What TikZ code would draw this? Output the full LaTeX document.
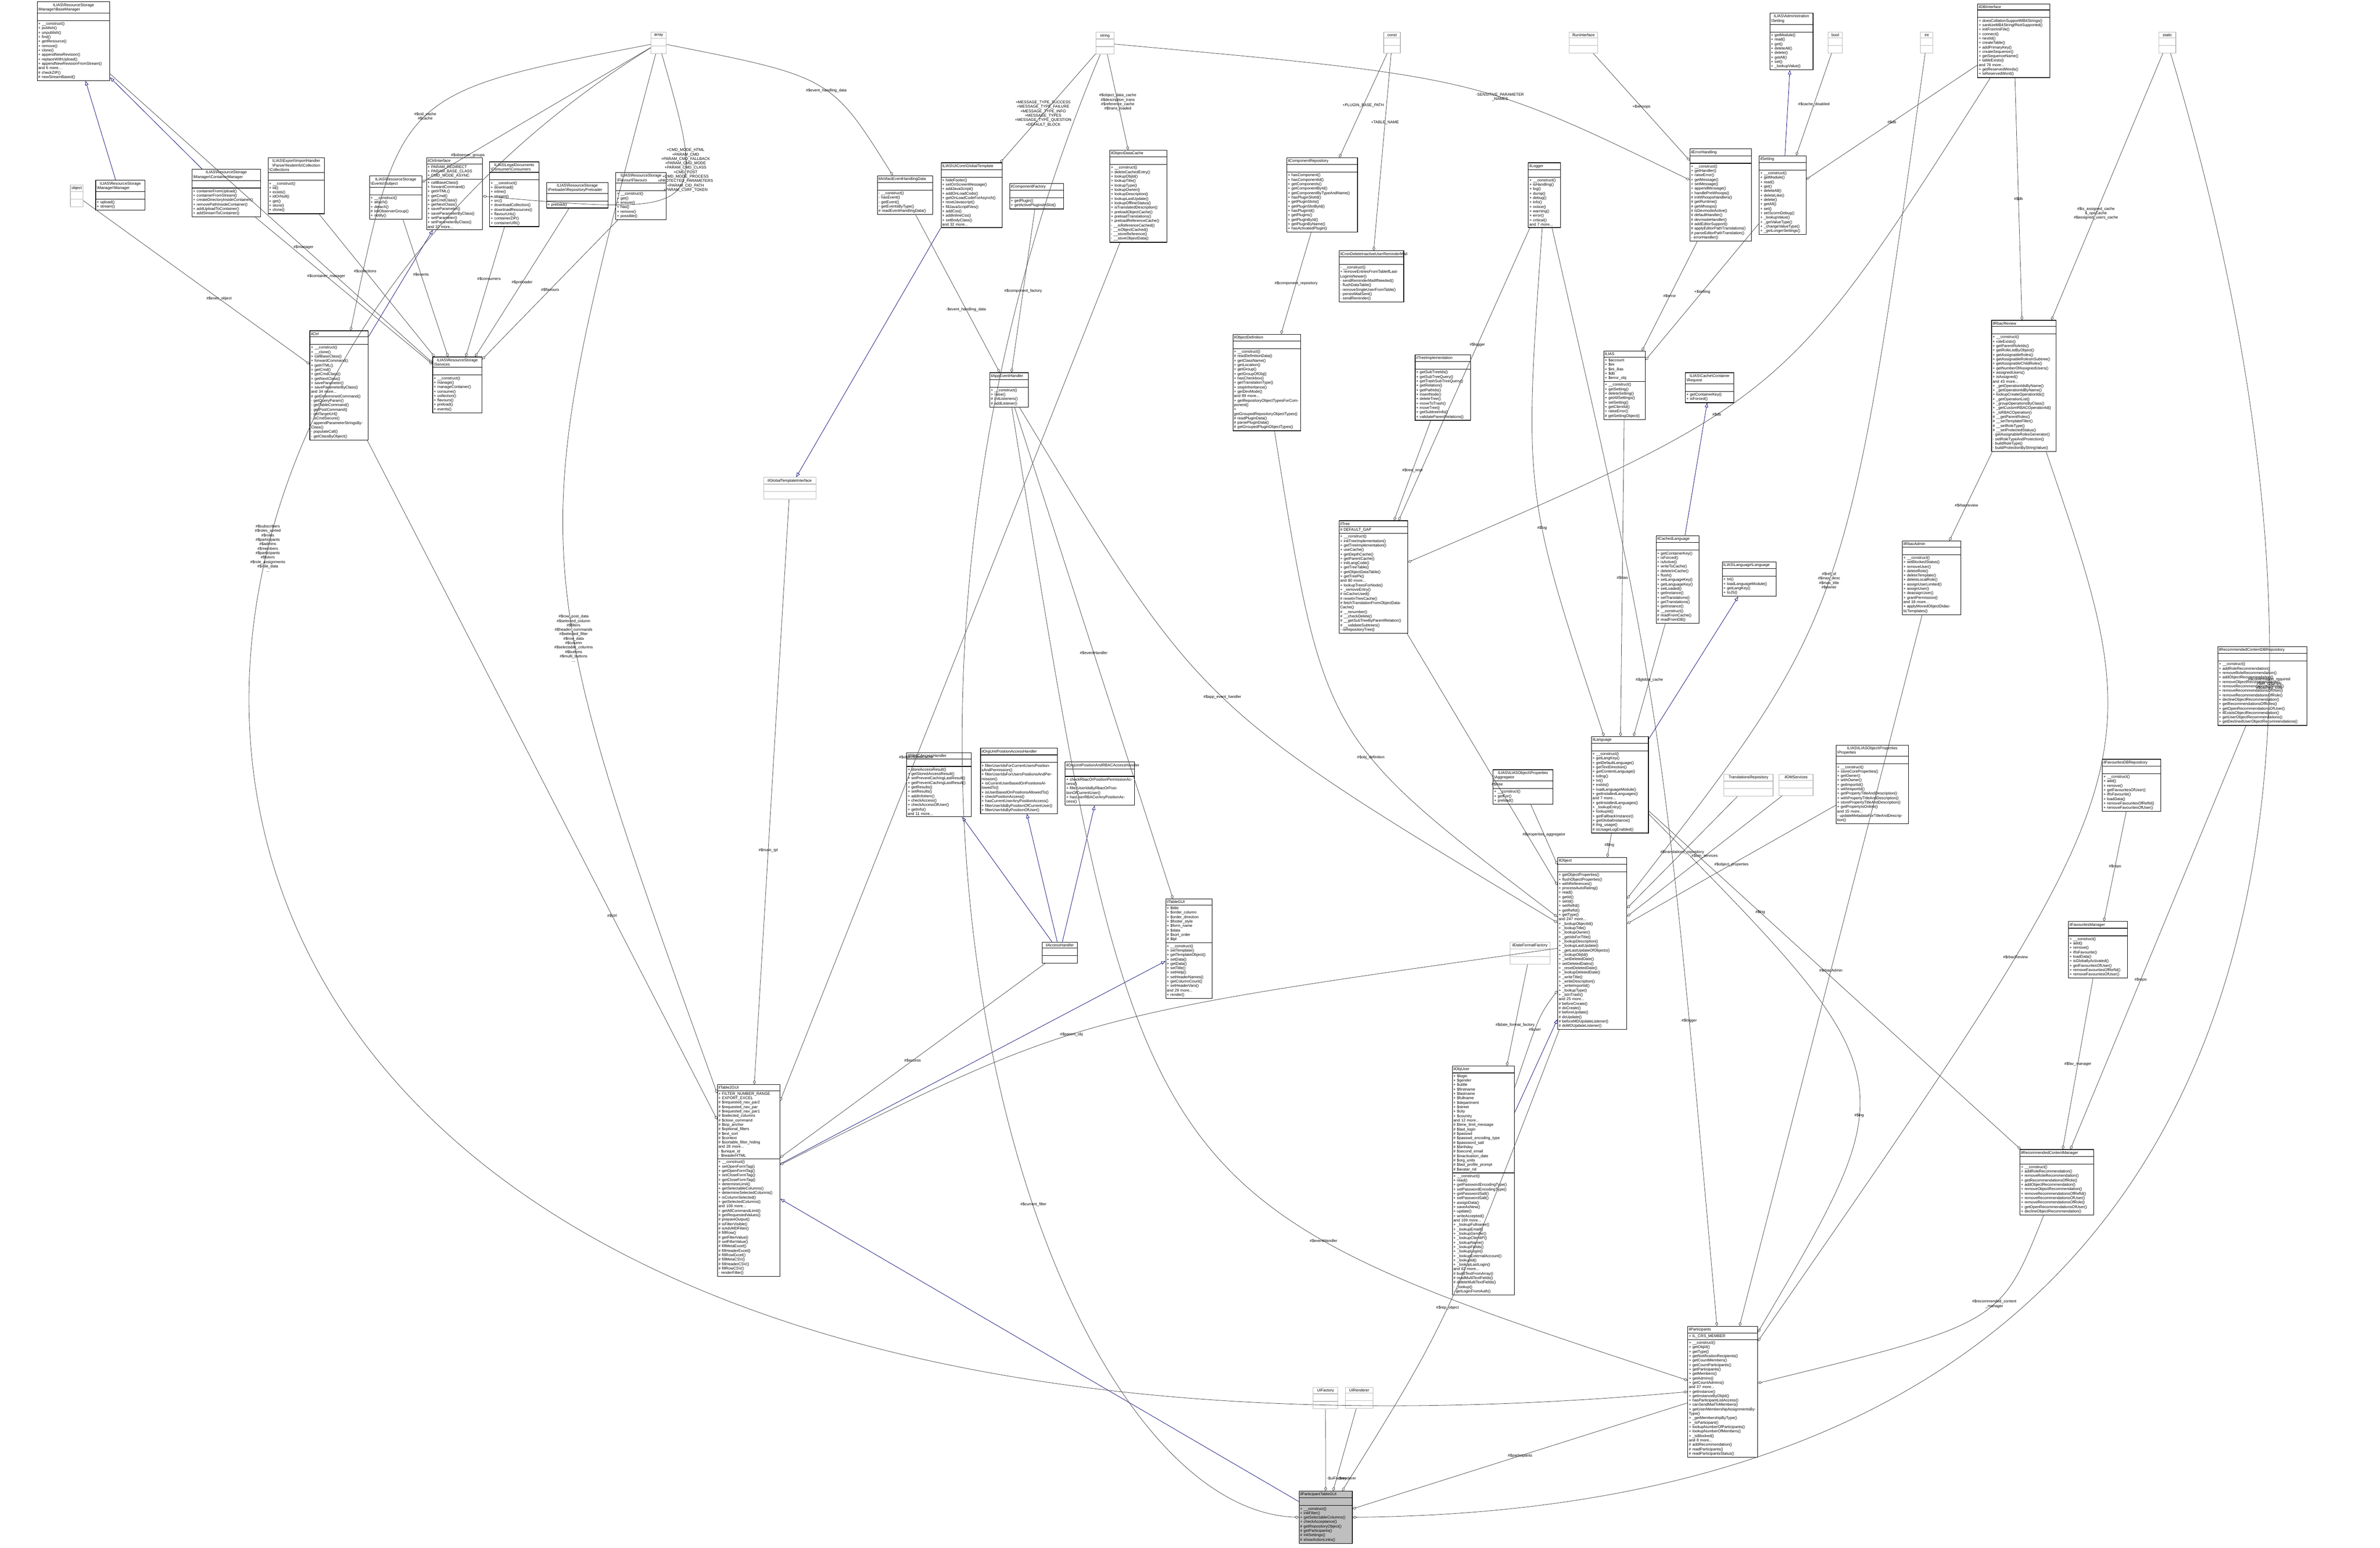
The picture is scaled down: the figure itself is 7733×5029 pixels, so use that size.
\documentclass[tikz,border=0pt]{standalone}
\usepackage{fontspec}
\setmainfont{Liberation Sans}
\usetikzlibrary{shapes.multipart,arrows.meta}
\newcommand{\bs}{\textbackslash}
\newcommand{\ubox}[7][]{%
  \pgfmathsetlengthmacro\bw{#5*0.01cm-2pt}%
  \node[ubox,text width=\bw,#1] (#2) at (#3,#4) {\centering #6\nodepart{second}\raggedright\strut\nodepart{third}\raggedright #7};}
\newcommand{\abox}[8][]{%
  \pgfmathsetlengthmacro\bw{#5*0.01cm-2pt}%
  \node[ubox,text width=\bw,#1] (#2) at (#3,#4) {\centering #6\nodepart{second}\raggedright #7\nodepart{third}\raggedright #8};}
\newcommand{\gbox}[4]{%
  \node[ubox,draw=gray!55,anchor=north,minimum width={#4*0.01cm}] (#1) at (#2,#3) {\centering #1\nodepart{second}\strut\nodepart{third}\strut};}
\begin{document}
\begin{tikzpicture}[x=0.01cm,y=-0.01cm,
  every node/.style={font=\fontsize{3.6}{4.1}\selectfont},
  ubox/.style={draw=black,line width=0.5pt,rectangle split,rectangle split parts=3,anchor=north west,inner xsep=1pt,inner ysep=1.2pt,fill=white},
  agg/.style={draw=black!75,line width=0.35pt,-{Diamond[open,length=4pt,width=2.6pt]}},
  inh/.style={draw=blue!45!black,line width=0.35pt,-{Triangle[open,length=4pt,width=3pt]}},
  lab/.style={align=center,inner sep=1pt}]
\useasboundingbox (0,0) rectangle (7733,5029);
% ---- gray type boxes
\gbox{array}{2140}{104}{50}
\gbox{string}{3590}{104}{59}
\gbox{const}{4523}{104}{54}
\gbox{RunInterface}{5145}{103}{93}
\gbox{bool}{5963}{103}{47}
\gbox{int}{6260}{103}{40}
\gbox{static}{7042}{103}{55}
\node[ubox,draw=gray!55] (object) at (228,600) {\centering object\nodepart{second}\strut\nodepart{third}\strut};
\node[ubox,draw=gray!55,minimum width=1.7cm] (gti) at (2480,1550) {\centering ilGlobalTemplateInterface\nodepart{second}\strut\nodepart{third}\strut};
\node[ubox,draw=gray!55,minimum width=1.6cm] (trep) at (5600,2515) {\centering TranslationsRepository\nodepart{second}\strut\nodepart{third}\strut};
\node[ubox,draw=gray!55,minimum width=1.1cm] (oms) at (5780,2515) {\centering ilOMServices\nodepart{second}\strut\nodepart{third}\strut};
\node[ubox,draw=gray!55,minimum width=1.3cm] (dff) at (4905,3060) {\centering ilDateFormatFactory\nodepart{second}\strut\nodepart{third}\strut};
\node[ubox,draw=gray!55,minimum width=0.8cm] (uif) at (4266,4506) {\centering UIFactory\nodepart{second}\strut\nodepart{third}\strut};
\node[ubox,draw=gray!55,minimum width=0.89cm] (uir) at (4371,4506) {\centering UIRenderer\nodepart{second}\strut\nodepart{third}\strut};
% ---- class boxes
\ubox{basemgr}{120}{5}{236}{ILIAS\bs ResourceStorage\\\bs Manager\bs BaseManager}{+ \_\_construct()\\+ publish()\\+ unpublish()\\+ find()\\+ getResource()\\+ remove()\\+ clone()\\+ appendNewRevision()\\+ replaceWithUpload()\\+ appendNewRevisionFromStream()\\and 6 more...\\\# checkZIP()\\\# newStreamBased()}
\ubox{mgr}{310}{585}{160}{ILIAS\bs ResourceStorage\\\bs Manager\bs Manager}{+ upload()\\+ stream()}
\ubox{contmgr}{623}{549}{223}{ILIAS\bs ResourceStorage\\\bs Manager\bs ContainerManager}{+ containerFromUpload()\\+ containerFromStream()\\+ createDirectoryInsideContainer()\\+ removePathInsideContainer()\\+ addUploadToContainer()\\+ addStreamToContainer()}
\ubox{coll}{870}{512}{183}{ILIAS\bs Export\bs ImportHandler\\\bs Parser\bs NodeInfo\bs Collection\\\bs Collections}{+ \_\_construct()\\+ id()\\+ exists()\\+ idOrNull()\\+ get()\\+ store()\\+ clone()}
\ubox{subj}{1200}{571}{170}{ILIAS\bs ResourceStorage\\\bs Events\bs Subject}{+ \_\_construct()\\+ attach()\\+ detach()\\\# initObserverGroup()\\+ notify()}
\abox{ctrlif}{1385}{512}{182}{ilCtrlInterface}{+ PARAM\_REDIRECT\\+ PARAM\_BASE\_CLASS\\+ CMD\_MODE\_ASYNC}{+ callBaseClass()\\+ forwardCommand()\\+ getHTML()\\+ getCmd()\\+ getCmdClass()\\+ getNextClass()\\+ saveParameter()\\+ saveParameterByClass()\\+ setParameter()\\+ setParameterByClass()\\and 32 more...}
\ubox{cons}{1590}{525}{160}{ILIAS\bs LegalDocuments\\\bs Consumer\bs Consumers}{+ \_\_construct()\\+ download()\\+ inline()\\+ stream()\\+ src()\\+ downloadCollection()\\+ downloadResources()\\+ flavourUrls()\\+ containerZIP()\\+ containerURI()}
\ubox{prel}{1775}{592}{200}{ILIAS\bs ResourceStorage\\\bs Preloader\bs RepositoryPreloader}{+ preload()}
\ubox{flav}{2000}{560}{164}{ILIAS\bs ResourceStorage\\\bs Flavour\bs Flavours}{+ \_\_construct()\\+ get()\\+ ensure()\\+ has()\\+ remove()\\+ possible()}
\ubox{aehd}{2850}{570}{180}{ilArtifactEventHandlingData}{- \_\_construct()\\- hasEvent()\\- getEvent()\\- getEventsByType()\\\# readEventHandlingData()}
\ubox{gtpl}{3057}{528}{199}{ILIAS\bs UICore\bs GlobalTemplate}{+ hideFooter()\\+ setOnScreenMessage()\\+ addJavaScript()\\+ addOnLoadCode()\\+ getOnLoadCodeForAsynch()\\+ resetJavascript()\\+ fillJavaScriptFiles()\\+ addCss()\\+ addInlineCss()\\+ setBodyClass()\\and 32 more...}
\ubox{cfac}{3280}{595}{175}{ilComponentFactory}{+ getPlugin()\\+ getActivePluginsInSlot()}
\ubox{odc}{3605}{487}{185}{ilObjectDataCache}{+ \_\_construct()\\+ deleteCachedEntry()\\+ lookupObjId()\\+ lookupTitle()\\+ lookupType()\\+ lookupOwner()\\+ lookupDescription()\\+ lookupLastUpdate()\\+ lookupOfflineStatus()\\+ isTranslatedDescription()\\+ preloadObjectCache()\\+ preloadTranslations()\\+ preloadReferenceCache()\\- \_\_isReferenceCached()\\- \_\_isObjectCached()\\- \_\_storeReference()\\- \_\_storeObjectData()}
\ubox{crep}{4180}{512}{230}{ilComponentRepository}{+ hasComponent()\\+ hasComponentId()\\+ getComponents()\\+ getComponentById()\\+ getComponentByTypeAndName()\\+ hasPluginSlotId()\\+ getPluginSlots()\\+ getPluginSlotById()\\+ hasPluginId()\\+ getPlugins()\\+ getPluginById()\\+ getPluginByName()\\+ hasActivatedPlugin()}
\ubox{cron}{4350}{814}{210}{ilCronDeleteInactiveUserReminderMail}{- \_\_construct()\\+ removeEntriesFromTableIfLastLoginIsNewer()\\- sendReminderMailIfNeeded()\\- flushDataTable()\\- removeSingleUserFromTable()\\- persistMailSent()\\- sendReminder()}
\ubox{logger}{4965}{528}{105}{ilLogger}{+ \_\_construct()\\+ isHandling()\\+ log()\\+ dump()\\+ debug()\\+ info()\\+ notice()\\+ warning()\\+ error()\\+ critical()\\and 7 more...}
\ubox{admset}{5750}{42}{140}{ILIAS\bs Administration\\\bs Setting}{+ getModule()\\+ read()\\+ get()\\+ deleteAll()\\+ delete()\\+ getAll()\\+ set()\\+ \_lookupValue()}
\ubox{db}{6425}{12}{235}{ilDBInterface}{+ doesCollationSupportMB4Strings()\\+ sanitizeMB4StringIfNotSupported()\\+ initFromIniFile()\\+ connect()\\+ nextId()\\+ createTable()\\+ addPrimaryKey()\\+ createSequence()\\+ getSequenceName()\\+ tableExists()\\and 78 more...\\+ getReservedWords()\\+ isReservedWord()}
\ubox{err}{5490}{483}{200}{ilErrorHandling}{+ \_\_construct()\\+ getHandler()\\+ raiseError()\\+ getMessage()\\+ setMessage()\\+ appendMessage()\\+ handlePreWhoops()\\\# initWhoopsHandlers()\\\# getRuntime()\\\# getWhoops()\\\# isDevmodeActive()\\\# defaultHandler()\\\# devmodeHandler()\\\# addEditorSupport()\\\# applyEditorPathTranslations()\\\# parseEditorPathTranslation()\\- errorHandler()}
\ubox{setting}{5715}{505}{152}{ilSetting}{+ \_\_construct()\\+ getModule()\\+ read()\\+ get()\\+ deleteAll()\\+ deleteLike()\\+ delete()\\+ getAll()\\+ set()\\+ setScormDebug()\\+ \_lookupValue()\\+ \_getValueType()\\+ \_changeValueType()\\+ \_getLongerSettings()}
\ubox{services}{1405}{1159}{160}{ILIAS\bs ResourceStorage\\\bs Services}{+ \_\_construct()\\+ manage()\\+ manageContainer()\\+ consume()\\+ collection()\\+ flavours()\\+ preload()\\+ events()}
\ubox{ctrl}{1006}{1074}{190}{ilCtrl}{+ \_\_construct()\\+ \_\_clone()\\+ callBaseClass()\\+ forwardCommand()\\+ getHTML()\\+ getCmd()\\+ getCmdClass()\\+ getNextClass()\\+ saveParameter()\\+ saveParameterByClass()\\and 34 more...\\\# getDeterminedCommand()\\- getQueryParam()\\- getTableCommand()\\- getPostCommand()\\- getTargetUrl()\\- isCmdSecure()\\- appendParameterStringsByClass()\\- populateCall()\\- getClassByObject()}
\ubox{aeh}{3215}{1210}{125}{ilAppEventHandler}{+ \_\_construct()\\+ raise()\\\# initListeners()\\\# addListener()}
\ubox{odef}{4005}{1085}{220}{ilObjectDefinition}{+ \_\_construct()\\\# readDefinitionData()\\+ getClassName()\\+ getLocation()\\+ getGroup()\\+ getGroupOfObj()\\+ hasCheckbox()\\+ getTranslationType()\\+ stopInheritance()\\+ getDevMode()\\and 89 more...\\+ getRepositoryObjectTypesForComponent()\\+ getGroupedRepositoryObjectTypes()\\\# readPluginData()\\\# parsePluginData()\\\# getGroupedPluginObjectTypes()}
\ubox{timpl}{4597}{1152}{180}{ilTreeImplementation}{+ getSubTreeIds()\\+ getSubTreeQuery()\\+ getTrashSubTreeQuery()\\+ getRelation()\\+ getPathIds()\\+ insertNode()\\+ deleteTree()\\+ moveToTrash()\\+ moveTree()\\+ getSubtreeInfo()\\+ validateParentRelations()}
\abox{ilias}{5210}{1140}{135}{ILIAS}{+ \$account\\+ \$ini\\+ \$ini\_ilias\\+ \$db\\+ \$error\_obj}{+ \_\_construct()\\+ getSetting()\\+ deleteSetting()\\+ getAllSettings()\\+ setSetting()\\+ getClientId()\\+ raiseError()\\\# getSettingObject()}
\ubox{req}{5475}{1210}{158}{ILIAS\bs Cache\bs Container\\\bs Request}{+ getContainerKey()\\+ isForced()}
\ubox{review}{6470}{1040}{210}{ilRbacReview}{+ \_\_construct()\\+ roleExists()\\+ getParentRoleIds()\\+ getRoleListByObject()\\+ getAssignableRoles()\\+ getAssignableRolesInSubtree()\\+ getAssignableChildRoles()\\+ getNumberOfAssignedUsers()\\+ assignedUsers()\\+ isAssigned()\\and 43 more...\\+ \_getOperationIdsByName()\\+ \_getOperationIdByName()\\+ lookupCreateOperationIds()\\+ \_getOperationList()\\+ \_groupOperationsByClass()\\+ \_getCustomRBACOperationId()\\+ \_isRBACOperation()\\\# \_\_getParentRoles()\\\# \_\_setTemplateFilter()\\\# \_\_setRoleType()\\\# \_\_setProtectedStatus()\\- getAssignableRolesGenerator()\\- setRoleTypeAndProtection()\\- buildRoleType()\\- buildProtectionByStringValue()}
\abox{tree}{4350}{1691}{223}{ilTree}{\# DEFAULT\_GAP}{+ \_\_construct()\\+ initTreeImplementation()\\+ getTreeImplementation()\\+ useCache()\\+ getDepthCache()\\+ getParentCache()\\+ initLangCode()\\+ getTreeTable()\\+ getObjectDataTable()\\+ getTreePk()\\and 80 more...\\+ lookupTreesForNode()\\+ \_removeEntry()\\\# isCacheUsed()\\\# resetInTreeCache()\\\# fetchTranslationFromObjectDataCache()\\\# \_\_renumber()\\\# \_\_checkDelete()\\\# \_\_getSubTreeByParentRelation()\\\# \_\_validateSubtrees()\\- isRepositoryTree()}
\ubox{clang}{5380}{1740}{140}{ilCachedLanguage}{+ getContainerKey()\\+ isForced()\\+ isActive()\\+ writeToCache()\\+ deleteInCache()\\+ flush()\\+ setLanguageKey()\\+ getLanguageKey()\\+ setLoaded()\\+ getInstance()\\+ setTranslations()\\+ getTranslations()\\+ getInstance()\\\# \_\_construct()\\\# readFromCache()\\\# readFromDB()}
\ubox{llang}{5595}{1825}{175}{ILIAS\bs Language\bs Language}{+ txt()\\+ loadLanguageModule()\\+ getLangKey()\\+ toJS()}
\ubox{admin}{6180}{1757}{190}{ilRbacAdmin}{+ \_\_construct()\\+ setBlockedStatus()\\+ removeUser()\\+ deleteRole()\\+ deleteTemplate()\\+ deleteLocalRole()\\+ assignUserLimited()\\+ assignUser()\\+ deassignUser()\\+ grantPermission()\\and 18 more...\\+ applyMovedObjectDidacticTemplates()}
\ubox{rcdb}{7205}{2100}{290}{ilRecommendedContentDBRepository}{+ \_\_construct()\\+ addRoleRecommendation()\\+ removeRoleRecommendation()\\+ addObjectRecommendation()\\+ removeObjectRecommendation()\\+ removeRecommendationsOfRefId()\\+ removeRecommendationsOfUser()\\+ removeRecommendationsOfRole()\\+ declineObjectRecommendation()\\+ getRecommendationsOfRoles()\\+ getOpenRecommendationsOfUser()\\+ ifExistsObjectRecommendation()\\+ getUserObjectRecommendations()\\+ getDeclinedUserObjectRecommendations()}
\ubox{rbacah}{2945}{2445}{210}{ilRBACAccessHandler}{+ storeAccessResult()\\+ getStoredAccessResult()\\+ setPreventCachingLastResult()\\+ getPreventCachingLastResult()\\+ getResults()\\+ setResults()\\+ addInfoItem()\\+ checkAccess()\\+ checkAccessOfUser()\\+ getInfo()\\and 11 more...}
\ubox{orgah}{3185}{2430}{250}{ilOrgUnitPositionAccessHandler}{+ filterUserIdsForCurrentUsersPositionsAndPermission()\\+ filterUserIdsForUsersPositionsAndPermission()\\+ isCurrentUserBasedOnPositionsAllowedTo()\\+ isUserBasedOnPositionsAllowedTo()\\+ checkPositionAccess()\\+ hasCurrentUserAnyPositionAccess()\\+ filterUserIdsByPositionOfCurrentUser()\\+ filterUserIdsByPositionOfUser()}
\ubox{orgrbac}{3460}{2475}{225}{ilOrgUnitPositionAndRBACAccessHandler}{+ checkRbacOrPositionPermissionAccess()\\+ filterUserIdsByRbacOrPositionOfCurrentUser()\\+ hasUserRBACorAnyPositionAccess()}
\node[ubox,minimum width=1.15cm] (access) at (3385,3060) {\centering ilAccessHandler\nodepart{second}\strut\nodepart{third}\strut};
\abox{tablegui}{3787}{2920}{150}{ilTableGUI}{+ \$title\\+ \$order\_column\\+ \$order\_direction\\+ \$footer\_style\\+ \$form\_name\\+ \$data\\\# \$sort\_order\\\# \$tpl}{+ \_\_construct()\\+ setTemplate()\\+ getTemplateObject()\\+ setData()\\+ getData()\\+ setTitle()\\+ setHelp()\\+ setHeaderNames()\\+ getColumnCount()\\+ setHeaderVars()\\and 29 more...\\+ render()}
\ubox{lang}{5170}{2392}{185}{ilLanguage}{+ \_\_construct()\\+ getLangKey()\\+ getDefaultLanguage()\\+ getTextDirection()\\+ getContentLanguage()\\+ txtlng()\\+ txt()\\+ exists()\\+ loadLanguageModule()\\+ getInstalledLanguages()\\and 7 more...\\+ getInstalledLanguages()\\+ \_lookupEntry()\\+ lookupId()\\+ getFallbackInstance()\\+ getGlobalInstance()\\\# ilng\_usage()\\\# isUsageLogEnabled()}
\ubox{aggr}{4850}{2500}{195}{ILIAS\bs ILIASObject\bs Properties\\\bs Aggregator}{+ \_\_construct()\\+ getFor()\\+ preload()}
\ubox{props}{5965}{2420}{235}{ILIAS\bs ILIASObject\bs Properties\\\bs Properties}{+ \_\_construct()\\+ storeCoreProperties()\\+ getOwner()\\+ withOwner()\\+ getImportId()\\+ withImportId()\\+ getPropertyTitleAndDescription()\\+ withPropertyTitleAndDescription()\\+ storePropertyTitleAndDescription()\\+ getPropertyIsOnline()\\and 15 more...\\- updateMetadataForTitleAndDescription()}
\ubox{favdb}{6830}{2466}{190}{ilFavouritesDBRepository}{+ \_\_construct()\\+ add()\\+ remove()\\+ getFavouritesOfUser()\\+ ifIsFavourite()\\+ loadData()\\+ removeFavouritesOfRefId()\\+ removeFavouritesOfUser()}
\ubox{obj}{5060}{2785}{225}{ilObject}{+ getObjectProperties()\\+ flushObjectProperties()\\+ withReferences()\\+ processAutoRating()\\+ read()\\+ getId()\\+ setId()\\+ setRefId()\\+ getRefId()\\+ getType()\\and 247 more...\\+ \_lookupObjectId()\\+ \_lookupTitle()\\+ \_lookupOwner()\\+ \_getIdsForTitle()\\+ \_lookupDescription()\\+ \_lookupLastUpdate()\\+ \_getLastUpdateOfObjects()\\+ \_lookupObjId()\\+ \_setDeletedDate()\\+ setDeletedDates()\\+ \_resetDeletedDate()\\+ \_lookupDeletedDate()\\+ \_writeTitle()\\+ \_writeDescription()\\+ \_writeImportId()\\+ \_lookupType()\\+ \_isInTrash()\\and 25 more...\\\# beforeCreate()\\\# doCreate()\\\# beforeUpdate()\\\# doUpdate()\\\# beforeMDUpdateListener()\\\# doMDUpdateListener()}
\ubox{favmgr}{6720}{2993}{192}{ilFavouritesManager}{+ \_\_construct()\\+ add()\\+ remove()\\+ ifIsFavourite()\\+ loadData()\\+ isGloballyActivated()\\+ getFavouritesOfUser()\\+ removeFavouritesOfRefId()\\+ removeFavouritesOfUser()}
\abox{user}{4718}{3463}{202}{ilObjUser}{+ \$login\\+ \$gender\\+ \$utitle\\+ \$firstname\\+ \$lastname\\+ \$fullname\\+ \$department\\+ \$street\\+ \$city\\+ \$country\\and 12 more...\\\# \$time\_limit\_message\\\# \$last\_login\\\# \$passwd\\\# \$passwd\_encoding\_type\\\# \$password\_salt\\\# \$birthday\\\# \$second\_email\\\# \$inactivation\_date\\\# \$org\_units\\\# \$last\_profile\_prompt\\\# \$avatar\_rid}{+ \_\_construct()\\+ read()\\+ getPasswordEncodingType()\\+ setPasswordEncodingType()\\+ getPasswordSalt()\\+ setPasswordSalt()\\+ assignData()\\+ saveAsNew()\\+ update()\\+ writeAccepted()\\and 169 more...\\+ \_lookupFullname()\\+ \_lookupEmail()\\+ \_lookupGender()\\+ \_lookupClientIP()\\+ \_lookupName()\\+ \_lookupFields()\\+ \_lookupLogin()\\+ \_lookupExternalAccount()\\+ \_lookupId()\\+ \_lookupLastLogin()\\and 62 more...\\\# buildTextFromArray()\\\# readMultiTextFields()\\\# deleteMultiTextFields()\\- \_lookup()\\- getLoginFromAuth()}
\ubox{rcm}{6562}{3734}{240}{ilRecommendedContentManager}{+ \_\_construct()\\+ addRoleRecommendation()\\+ removeRoleRecommendation()\\+ getRecommendationsOfRole()\\+ addObjectRecommendation()\\+ removeObjectRecommendation()\\+ removeRecommendationsOfRefId()\\+ removeRecommendationsOfUser()\\+ removeRecommendationsOfRole()\\+ getOpenRecommendationsOfUser()\\+ declineObjectRecommendation()}
\abox{t2gui}{2330}{3523}{203}{ilTable2GUI}{+ FILTER\_NUMBER\_RANGE\\+ EXPORT\_EXCEL\\\# \$requested\_nav\_par2\\\# \$requested\_nav\_par\\\# \$requested\_nav\_par1\\\# \$selected\_columns\\\# \$close\_command\\\# \$top\_anchor\\\# \$optional\_filters\\\# \$ext\_sort\\\# \$context\\\# \$sortable\_filter\_hiding\\and 28 more...\\- \$unique\_id\\- \$headerHTML}{+ \_\_construct()\\+ setOpenFormTag()\\+ getOpenFormTag()\\+ setCloseFormTag()\\+ getCloseFormTag()\\+ determineLimit()\\+ getSelectableColumns()\\+ determineSelectedColumns()\\+ isColumnSelected()\\+ getSelectedColumns()\\and 108 more...\\+ getAllCommandLimit()\\\# getRequestedValues()\\\# prepareOutput()\\\# isFilterVisible()\\\# isAdvMDFilter()\\\# fillRow()\\\# getFilterValue()\\\# setFilterValue()\\\# fillMetaExcel()\\\# fillHeaderExcel()\\\# fillRowExcel()\\\# fillMetaCSV()\\\# fillHeaderCSV()\\\# fillRowCSV()\\- renderFilter()}
\abox{part}{5483}{4308}{227}{ilParticipants}{+ IL\_CRS\_MEMBER}{+ \_\_construct()\\+ getObjId()\\+ getType()\\+ getNotificationRecipients()\\+ getCountMembers()\\+ getCountParticipants()\\+ getParticipants()\\+ getMembers()\\+ getAdmins()\\+ getCountAdmins()\\and 37 more...\\+ getInstance()\\+ getInstanceByObjId()\\+ hasParticipantListAccess()\\+ canSendMailToMembers()\\+ getUserMembershipAssignmentsByType()\\+ \_getMembershipByType()\\+ \_isParticipant()\\+ lookupNumberOfParticipants()\\+ lookupNumberOfMembers()\\+ \_isBlocked()\\and 8 more...\\\# addRecommendation()\\\# readParticipants()\\\# readParticipantsStatus()}
\ubox[fill=gray!50]{target}{4220}{4844}{173}{ilParticipantTableGUI}{+ \_\_construct()\\+ initFilter()\\+ getSelectableColumns()\\+ checkAcceptance()\\\# getRepositoryObject()\\\# getParticipants()\\\# initSettings()\\\# showActionLinks()}
% ---- inheritance
\draw[inh] (mgr) -- (basemgr);
\draw[inh] (contmgr) -- (basemgr);
\draw[inh] (ctrl) -- (ctrlif);
\draw[inh] (gtpl.south west) -- (gti);
\draw[inh] (access) -- (rbacah);
\draw[inh] (access) -- (orgah);
\draw[inh] (access) -- (orgrbac);
\draw[inh] (t2gui) -- (tablegui);
\draw[inh] (target) -- (t2gui);
\draw[inh] (user) -- (obj);
\draw[inh] (setting) -- (admset);
\draw[inh] (lang) -- (llang);
\draw[inh] (clang) -- (req);
% ---- aggregations
\draw[agg] (basemgr) -- node[lab,pos=0.6]{\#\$manager} (services);
\draw[agg] (contmgr) -- node[lab,pos=0.4]{\#\$container\_manager} (services);
\draw[agg] (coll) -- node[lab,pos=0.4]{\#\$collections} (services);
\draw[agg] (subj) -- node[lab,pos=0.4]{\#\$events} (services);
\draw[agg] (cons) -- node[lab,pos=0.4]{\#\$consumers} (services);
\draw[agg] (prel) -- node[lab,pos=0.5]{\#\$preloader} (services);
\draw[agg] (flav) -- node[lab,pos=0.5]{\#\$flavours} (services);
\draw[agg] (object) -- node[lab,pos=0.6]{\#\$exec\_object} (ctrl);
\draw[agg] (array) .. controls (1300,300) .. node[lab,pos=0.5]{\#\$cid\_cache\\\#\$cache} (ctrl);
\draw[agg] (array) .. controls (2300,700) .. node[lab,pos=0.35]{+CMD\_MODE\_HTML\\+PARAM\_CMD\\+PARAM\_CMD\_FALLBACK\\+PARAM\_CMD\_MODE\\+PARAM\_CMD\_CLASS\\+CMD\_POST\\+CMD\_MODE\_PROCESS\\+PROTECTED\_PARAMETERS\\+PARAM\_CID\_PATH\\+PARAM\_CSRF\_TOKEN} (ctrlif);
\draw[agg] (array) .. controls (2700,250) .. node[lab,pos=0.55]{\#\$event\_handling\_data} (aehd);
\draw[agg] (string) -- node[lab,pos=0.5]{\#\$object\_data\_cache\\\#\$description\_trans\\\#\$reference\_cache\\\#\$trans\_loaded} (odc);
\draw[agg] (string) -- node[lab,pos=0.55]{+MESSAGE\_TYPE\_SUCCESS\\+MESSAGE\_TYPE\_FAILURE\\+MESSAGE\_TYPE\_INFO\\+MESSAGE\_TYPES\\+MESSAGE\_TYPE\_QUESTION\\+DEFAULT\_BLOCK} (gtpl);
\draw[agg] (const) -- node[lab,pos=0.5]{+PLUGIN\_BASE\_PATH} (crep);
\draw[agg] (const) -- node[lab,pos=0.35]{+TABLE\_NAME} (cron);
\draw[agg] (array) -- node[lab,pos=0.8]{\#\$observer\_groups} (subj);
\draw[agg] (array) .. controls (1700,1800) .. node[lab,pos=0.6]{\#\$row\_post\_data\\\#\$selected\_column\\\#\$filters\\\#\$header\_commands\\\#\$selected\_filter\\\#\$row\_data\\\#\$column\\\#\$selectable\_columns\\\#\$buttons\\\#\$multi\_buttons\\...} (t2gui);
\draw[agg] (ctrl) -- node[lab,pos=0.7]{\#\$ctrl} (t2gui);
\draw[agg] (gti) -- node[lab,pos=0.6]{\#\$main\_tpl} (t2gui);
\draw[agg] (access) -- node[lab,pos=0.5]{\#\$access} (t2gui);
\draw[agg] (odc) -- node[lab,pos=0.6]{\#\$objectDataCache} (t2gui);
\draw[agg] (obj) .. controls (3500,3300) .. node[lab,pos=0.55]{\#\$parent\_obj} (t2gui);
\draw[agg] (aeh) -- node[lab,pos=0.5]{\#\$eventHandler} (tablegui);
\draw[agg] (aehd) -- node[lab,pos=0.6]{-\$event\_handling\_data} (aeh);
\draw[agg] (cfac) -- node[lab,pos=0.5]{\#\$component\_factory} (aeh);
\draw[agg] (crep) -- node[lab,pos=0.5]{\#\$component\_repository} (odef);
\draw[agg] (logger) -- node[lab,pos=0.4]{\#\$logger} (tree);
\draw[agg] (timpl) -- node[lab,pos=0.5]{\#\$tree\_impl} (tree);
\draw[agg] (db) -- node[lab,pos=0.5]{\#\$db} (setting);
\draw[agg] (db) -- node[lab,pos=0.5]{\#\$db} (review);
\draw[agg] (db) .. controls (5800,1300) .. node[lab,pos=0.6]{\#\$db} (tree);
\draw[agg] (bool) -- node[lab,pos=0.5]{\#\$cache\_disabled} (setting);
\draw[agg] (static) -- node[lab,pos=0.6]{\#\$is\_assigned\_cache\\\$\_opsCache\\\#\$assigned\_users\_cache} (review);
\draw[agg] (int) .. controls (6000,2000) .. node[lab,pos=0.5]{\#\$ref\_id\\\#\$max\_desc\\\#\$max\_title\\\#\$owner} (obj);
\draw[agg] (RunInterface) -- node[lab,pos=0.5]{+\$whoops} (err);
\draw[agg] (string) .. controls (4800,250) .. node[lab,pos=0.6]{-SENSITIVE\_PARAMETER\\\_NAMES} (err);
\draw[agg] (setting) -- node[lab,pos=0.5]{+\$setting} (ilias);
\draw[agg] (err) -- node[lab,pos=0.5]{\#\$error} (ilias);
\draw[agg] (ilias) -- node[lab,pos=0.5]{\#\$ilias} (lang);
\draw[agg] (clang) -- node[lab,pos=0.5]{\#\$global\_cache} (lang);
\draw[agg] (logger) .. controls (4950,1600) .. node[lab,pos=0.6]{\#\$log} (lang);
\draw[agg] (lang) -- node[lab,pos=0.5]{\#\$lng} (obj);
\draw[agg] (tree) -- node[lab,pos=0.6]{\#\$tree} (obj);
\draw[agg] (odef) .. controls (4300,2400) .. node[lab,pos=0.6]{\#\$obj\_definition} (obj);
\draw[agg] (aeh) .. controls (3900,2300) .. node[lab,pos=0.5]{\#\$app\_event\_handler} (obj);
\draw[agg] (aggr) -- node[lab,pos=0.5]{\#\$properties\_aggregator} (obj);
\draw[agg] (props) -- node[lab,pos=0.5]{\#\$object\_properties} (obj);
\draw[agg] (trep) -- node[lab,pos=0.5]{\#\$translations\_repository} (obj);
\draw[agg] (oms) -- node[lab,pos=0.5]{\#\$om\_services} (obj);
\draw[agg] (user) .. controls (5000,3300) .. node[lab,pos=0.4]{\#\$user} (obj);
\draw[agg] (dff) -- node[lab,pos=0.6]{\#\$date\_format\_factory} (user);
\draw[agg] (review) -- node[lab,pos=0.6]{\#\$rbacreview} (admin);
\draw[agg] (admin) -- node[lab,pos=0.5]{\#\$rbacAdmin} (part);
\draw[agg] (review) .. controls (7000,2500) .. node[lab,pos=0.7]{\#\$rbacReview} (part);
\draw[agg] (lang) .. controls (6200,3500) .. node[lab,pos=0.6]{\#\$lng} (part);
\draw[agg] (rcdb) -- node[lab,pos=0.6]{\#\$repo} (rcm);
\draw[agg] (favdb) -- node[lab,pos=0.5]{\#\$repo} (favmgr);
\draw[agg] (favmgr) -- node[lab,pos=0.5]{\#\$fav\_manager} (rcm);
\draw[agg] (lang) -- node[lab,pos=0.3]{\#\$lng} (rcm);
\draw[agg] (rcm) .. controls (6500,4300) .. node[lab,pos=0.4]{\#\$recommended\_content\\\_manager} (part);
\draw[agg] (logger) .. controls (5400,2300) .. node[lab,pos=0.8]{\#\$logger} (part);
\draw[agg] (aeh) .. controls (3700,3900) .. node[lab,pos=0.7]{\#\$eventHandler} (part);
\draw[agg] (obj) .. controls (4700,4300) .. node[lab,pos=0.5]{\#\$rep\_object} (target);
\draw[agg] (part) -- node[lab,pos=0.5]{\#\$participants} (target);
\draw[agg] (uif) -- node[lab,right,pos=0.85]{-\$uiFactory} (target);
\draw[agg] (uir) -- node[lab,right,pos=0.85]{-\$renderer} (target);
\draw[agg] (string) .. controls (2600,2500) and (3400,4900) .. node[lab,pos=0.6]{\#\$current\_filter} (target.west);
\draw[agg] (array) .. controls (-50,1500) and (100,5000) .. node[lab,pos=0.3]{\#\$subscribers\\\#\$roles\_sorted\\\#\$roles\\\#\$participants\\\#\$admins\\\#\$members\\\#\$participants\\\#\$tutors\\\#\$role\_assignments\\\#\$role\_data\\...} (part.west);
\draw[agg] (static) .. controls (7750,2500) and (7500,4900) .. node[lab,pos=0.3]{\#\$confirmation\_required\\\#\$all\_columns\\\#\$cached\_cols} (target.east);
\end{tikzpicture}
\end{document}
